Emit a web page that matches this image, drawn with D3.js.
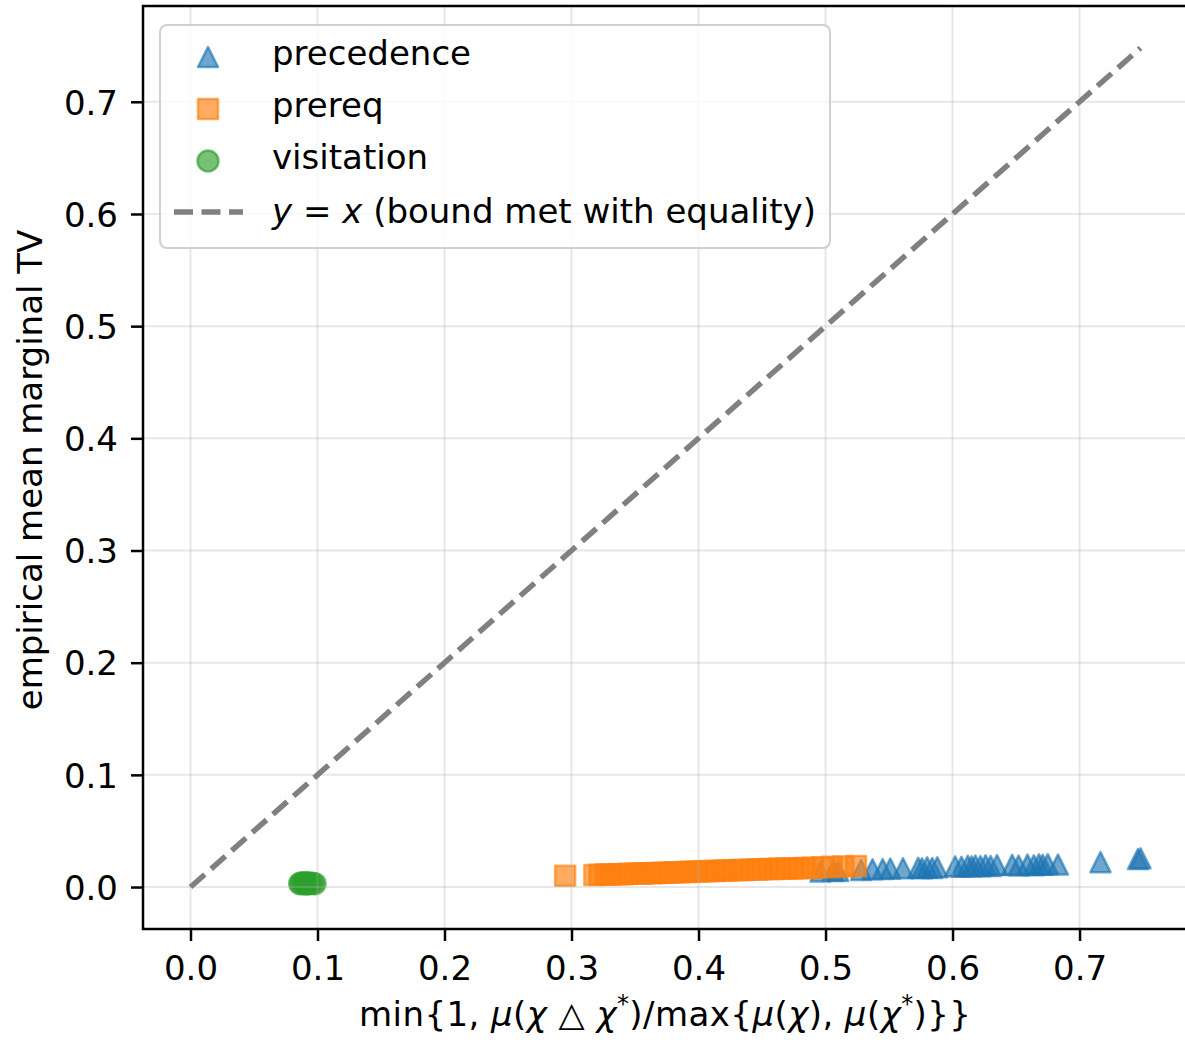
<!DOCTYPE html>
<html>
<head>
<meta charset="utf-8">
<script src="https://cdn.jsdelivr.net/npm/d3@7"></script>
<style>
  html, body { margin: 0; padding: 0; background: #fff; }
  text { font-family: "DejaVu Sans", sans-serif; }
</style>
</head>
<body>
<script>
const width = 1185;
const height = 1049;

// values
const precedenceX = [0.496, 0.506, 0.510, 0.528, 0.537, 0.545, 0.551, 0.561, 0.573, 0.576,
  0.580, 0.584, 0.588, 0.602, 0.607, 0.612, 0.615, 0.618, 0.622, 0.626,
  0.630, 0.635, 0.647, 0.652, 0.659, 0.664, 0.668, 0.671, 0.675, 0.683,
  0.7165, 0.746, 0.748];
const precedenceY = [0.0138, 0.0146, 0.0142, 0.0152, 0.0158, 0.0160, 0.0165, 0.0168, 0.0172, 0.0168,
  0.0175, 0.0170, 0.0176, 0.0185, 0.0180, 0.0190, 0.0184, 0.0192, 0.0186, 0.0194,
  0.0188, 0.0196, 0.0198, 0.0192, 0.0200, 0.0194, 0.0202, 0.0198, 0.0204, 0.0200,
  0.0222, 0.0250, 0.0256];

const prereqX = [0.295, 0.318, 0.322, 0.327, 0.331, 0.336, 0.340, 0.345, 0.350, 0.354,
  0.358, 0.363, 0.367, 0.372, 0.376, 0.381, 0.385, 0.390, 0.394, 0.399,
  0.404, 0.408, 0.413, 0.418, 0.422, 0.427, 0.432, 0.436, 0.441, 0.446,
  0.450, 0.455, 0.460, 0.464, 0.469, 0.474, 0.479, 0.484, 0.490, 0.497,
  0.505, 0.514, 0.524];
const prereqY = [0.0100, 0.0108, 0.0110, 0.0112, 0.0111, 0.0115, 0.0114, 0.0118, 0.0120, 0.0119,
  0.0123, 0.0122, 0.0126, 0.0128, 0.0127, 0.0131, 0.0133, 0.0134, 0.0137, 0.0139,
  0.0140, 0.0143, 0.0144, 0.0146, 0.0148, 0.0150, 0.0151, 0.0153, 0.0155, 0.0156,
  0.0158, 0.0160, 0.0161, 0.0163, 0.0165, 0.0166, 0.0168, 0.0170, 0.0172, 0.0176,
  0.0180, 0.0184, 0.0188];

const visitationX = [0.086, 0.087, 0.089, 0.090, 0.091, 0.092, 0.093, 0.094, 0.096, 0.098];
const visitationY = [0.0030, 0.0035, 0.0030, 0.0040, 0.0028, 0.0032, 0.0036, 0.0030, 0.0033, 0.0030];

const xTickValues = [0, 0.1, 0.2, 0.3, 0.4, 0.5, 0.6, 0.7];
const yTickValues = [0, 0.1, 0.2, 0.3, 0.4, 0.5, 0.6, 0.7];

// matplotlib-like markers: '^' is as tall as it is wide
const mplTriangle = {
  draw(ctx, size) {
    const h = Math.sqrt(size) / 2;
    ctx.moveTo(0, -h); ctx.lineTo(h, h); ctx.lineTo(-h, h); ctx.closePath();
  }
};
const mplSquare = {
  draw(ctx, size) {
    const h = Math.sqrt(size) / 2;
    ctx.rect(-h, -h, 2 * h, 2 * h);
  }
};

const series = [
  { name: 'precedence', xs: precedenceX, ys: precedenceY, color: '#1f77b4', type: mplTriangle, size: 20 * 20 },
  { name: 'prereq', xs: prereqX, ys: prereqY, color: '#ff7f0e', type: mplSquare, size: 20 * 20 },
  { name: 'visitation', xs: visitationX, ys: visitationY, color: '#2ca02c', type: d3.symbolCircle, size: Math.PI * 10.5 * 10.5 }
];

const plot = { left: 143, top: 6, right: 1188, bottom: 929 };

const maxX = d3.max(series, s => d3.max(s.xs));
const pad = 0.05 * maxX;

const x = d3.scaleLinear().domain([-pad, maxX + pad]).range([plot.left, plot.right]);
const y = d3.scaleLinear().domain([-pad, maxX + pad]).range([plot.bottom, plot.top]);

const svg = d3.select('body')
  .append('svg')
  .attr('width', width)
  .attr('height', height)
  .style('display', 'block');

svg.append('rect').attr('width', width).attr('height', height).attr('fill', '#fff');

const symbol = d3.symbol();

series.forEach(s => {
  const pts = s.xs.map((v, i) => ({ x: v, y: s.ys[i] }));
  svg.append('g')
    .selectAll('path')
    .data(pts)
    .enter()
    .append('path')
    .attr('transform', d => `translate(${x(d.x)},${y(d.y)})`)
    .attr('d', symbol.type(s.type).size(s.size)())
    .attr('fill', s.color)
    .attr('fill-opacity', 0.65)
    .attr('stroke', s.color)
    .attr('stroke-opacity', 0.65)
    .attr('stroke-width', 2.5)
    .attr('stroke-linejoin', 'round');
});

// grid sits above the scatter, like matplotlib's default zorder
const grid = svg.append('g')
  .attr('stroke', '#b0b0b0')
  .attr('stroke-opacity', 0.3)
  .attr('stroke-width', 2);

grid.selectAll('.gx')
  .data(xTickValues)
  .enter()
  .append('line')
  .attr('x1', d => x(d)).attr('x2', d => x(d))
  .attr('y1', plot.top).attr('y2', plot.bottom);

grid.selectAll('.gy')
  .data(yTickValues)
  .enter()
  .append('line')
  .attr('x1', plot.left).attr('x2', plot.right)
  .attr('y1', d => y(d)).attr('y2', d => y(d));

// y = x reference
svg.append('line')
  .attr('x1', x(0)).attr('y1', y(0))
  .attr('x2', x(maxX)).attr('y2', y(maxX))
  .attr('stroke', '#808080')
  .attr('stroke-width', 5.5)
  .attr('stroke-dasharray', '19,8.5');

// axes
const fmt = d3.format('.1f');

const xAxis = svg.append('g')
  .attr('transform', `translate(0,${plot.bottom})`)
  .call(d3.axisBottom(x).tickValues(xTickValues).tickFormat(fmt).tickSize(12));
xAxis.select('.domain').remove();
xAxis.selectAll('line').attr('stroke', '#000').attr('stroke-width', 2.5);
xAxis.selectAll('text')
  .attr('y', 51).attr('dy', null)
  .attr('fill', '#000')
  .style('font-size', '34px');

const yAxis = svg.append('g')
  .attr('transform', `translate(${plot.left},0)`)
  .call(d3.axisLeft(y).tickValues(yTickValues).tickFormat(fmt).tickSize(12));
yAxis.select('.domain').remove();
yAxis.selectAll('line').attr('stroke', '#000').attr('stroke-width', 2.5);
yAxis.selectAll('text')
  .attr('x', -25).attr('dy', '0.36em')
  .attr('fill', '#000')
  .style('font-size', '34px');

svg.append('rect')
  .attr('x', plot.left).attr('y', plot.top)
  .attr('width', plot.right - plot.left)
  .attr('height', plot.bottom - plot.top)
  .attr('fill', 'none')
  .attr('stroke', '#000')
  .attr('stroke-width', 2.5);

// axis labels
svg.append('text')
  .attr('transform', 'translate(42,470) rotate(-90)')
  .attr('text-anchor', 'middle')
  .style('font-size', '34px')
  .text('empirical mean marginal TV');

const xLabelParts = [
  ['min{1, ', 'normal', 0], ['μ', 'italic', 0], ['(', 'normal', 0], ['χ', 'italic', 0],
  [' △ ', 'normal', 0], ['χ', 'italic', 0], ['*', 'normal', 1], [')/max{', 'normal', 0],
  ['μ', 'italic', 0], ['(', 'normal', 0], ['χ', 'italic', 0], ['), ', 'normal', 0],
  ['μ', 'italic', 0], ['(', 'normal', 0], ['χ', 'italic', 0], ['*', 'normal', 1],
  [')}}', 'normal', 0]
];
const xLabel = svg.append('text')
  .attr('x', 665).attr('y', 1026)
  .attr('text-anchor', 'middle')
  .attr('textLength', 612)
  .attr('lengthAdjust', 'spacing')
  .style('font-size', '34px');
xLabel.selectAll('tspan')
  .data(xLabelParts)
  .enter()
  .append('tspan')
  .style('font-style', d => d[1])
  .style('font-size', d => d[2] ? '24px' : null)
  .attr('baseline-shift', d => d[2] ? '14px' : null)
  .text(d => d[0]);

// legend
const legend = svg.append('g');
legend.append('rect')
  .attr('x', 160).attr('y', 25)
  .attr('width', 670).attr('height', 223)
  .attr('rx', 7)
  .attr('fill', '#fff').attr('fill-opacity', 0.8)
  .attr('stroke', '#d0d0d0').attr('stroke-width', 2);

const rowY = [57, 109, 161, 212];
series.forEach((s, i) => {
  legend.append('path')
    .attr('transform', `translate(208,${rowY[i]})`)
    .attr('d', symbol.type(s.type).size(s.size)())
    .attr('fill', s.color).attr('fill-opacity', 0.65)
    .attr('stroke', s.color).attr('stroke-opacity', 0.65)
    .attr('stroke-width', 2.5)
    .attr('stroke-linejoin', 'round');
  legend.append('text')
    .attr('x', 272).attr('y', rowY[i] + 8)
    .style('font-size', '34px')
    .text(s.name);
});

legend.append('line')
  .attr('x1', 174).attr('x2', 243)
  .attr('y1', rowY[3]).attr('y2', rowY[3])
  .attr('stroke', '#808080')
  .attr('stroke-width', 5.5)
  .attr('stroke-dasharray', '19,8.5');

const refLabel = legend.append('text')
  .attr('x', 272).attr('y', rowY[3] + 11)
  .style('font-size', '34px');
refLabel.append('tspan').style('font-style', 'italic').text('y');
refLabel.append('tspan').text(' = ');
refLabel.append('tspan').style('font-style', 'italic').text('x');
refLabel.append('tspan').text(' (bound met with equality)');
</script>
</body>
</html>
